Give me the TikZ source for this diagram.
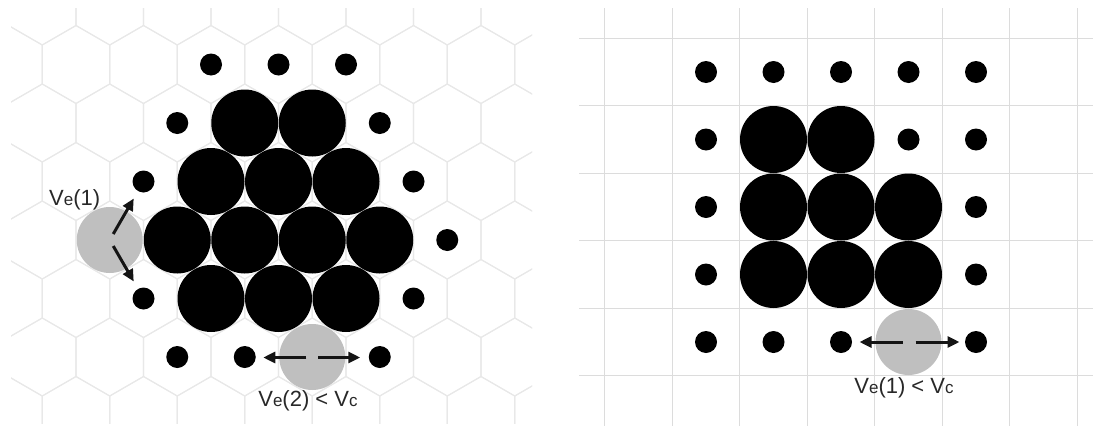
\documentclass[tikz,border=0pt]{standalone}
\usepackage{fontspec}
\setmainfont{Liberation Sans}
\usetikzlibrary{arrows.meta,calc}
\definecolor{hexc}{RGB}{232,232,232}
\definecolor{sqc}{RGB}{220,220,220}
\definecolor{greyc}{RGB}{191,191,191}
\definecolor{txtc}{RGB}{40,40,40}
\newcommand\subl[1]{{\fontsize{17}{17}\selectfont #1}}
\begin{document}
\begin{tikzpicture}[x=1pt,y=-1pt,
  bigc/.style={circle,fill=black,minimum size=67pt,inner sep=0pt,outer sep=0pt},
  dotc/.style={circle,fill=black,minimum size=22pt,inner sep=0pt,outer sep=0pt},
  greyatom/.style={circle,fill=greyc,minimum size=66pt,inner sep=0pt,outer sep=0pt},
  arr/.style={line width=3pt,draw=black!92,-{Triangle[length=12pt,width=11pt]}},
  lbl/.style={text=txtc,font=\fontsize{22}{24}\selectfont,inner sep=0pt},
  hexline/.style={draw=hexc,line width=1.1pt},
  gridline/.style={draw=sqc,line width=1.1pt}]
\useasboundingbox (0,0) rectangle (1093,426);
% ---------- hexagonal background (left) ----------
\begin{scope}
  \clip (11,8) rectangle (532,423);
  \foreach \r in {-1,...,6}{
    \foreach \k in {-4,...,5}{
      \pgfmathsetmacro{\cx}{211+67.5*\k-33.75*mod(abs(\r),2)}
      \pgfmathsetmacro{\cy}{64.5+58.5*\r}
      \draw[hexline] (\cx,\cy) +(30:38.97) -- +(90:38.97) -- +(150:38.97)
        -- +(210:38.97) -- +(270:38.97) -- +(330:38.97) -- cycle;
    }
  }
\end{scope}
% ---------- square background (right) ----------
\begin{scope}
  \clip (579,8) rectangle (1093,426);
  \foreach \i in {0,...,7}{
    \draw[gridline] ({604.75+67.5*\i},8) -- ({604.75+67.5*\i},426);
  }
  \foreach \j in {0,...,5}{
    \draw[gridline] (579,{38.25+67.5*\j}) -- (1093,{38.25+67.5*\j});
  }
\end{scope}
% ---------- left panel atoms ----------
% row 0
\node[dotc] (La1) at (211,64.5) {};
\node[dotc] (La2) at (278.5,64.5) {};
\node[dotc] (La3) at (346,64.5) {};
% row 1
\node[dotc] (Lb1) at (177.25,123) {};
\node[bigc] (Lb2) at (244.75,123) {};
\node[bigc] (Lb3) at (312.25,123) {};
\node[dotc] (Lb4) at (379.75,123) {};
% row 2
\node[dotc] (Lc1) at (143.5,181.5) {};
\node[bigc] (Lc2) at (211,181.5) {};
\node[bigc] (Lc3) at (278.5,181.5) {};
\node[bigc] (Lc4) at (346,181.5) {};
\node[dotc] (Lc5) at (413.5,181.5) {};
% row 3
\node[greyatom] (g1) at (109.75,240) {};
\node[bigc] (Ld2) at (177.25,240) {};
\node[bigc] (Ld3) at (244.75,240) {};
\node[bigc] (Ld4) at (312.25,240) {};
\node[bigc] (Ld5) at (379.75,240) {};
\node[dotc] (Ld6) at (447.25,240) {};
% row 4
\node[dotc] (Le1) at (143.5,298.5) {};
\node[bigc] (Le2) at (211,298.5) {};
\node[bigc] (Le3) at (278.5,298.5) {};
\node[bigc] (Le4) at (346,298.5) {};
\node[dotc] (Le5) at (413.5,298.5) {};
% row 5
\node[dotc] (Lf1) at (177.25,357) {};
\node[dotc] (Lf2) at (244.75,357) {};
\node[greyatom] (g2) at (312.25,357) {};
\node[dotc] (Lf4) at (379.75,357) {};
% arrows left panel
\draw[arr] ($(g1)+(3.5,-6)$) -- ($(g1)+(24,-41.5)$);
\draw[arr] ($(g1)+(3.5,6)$) -- ($(g1)+(24,41.5)$);
\draw[arr] ($(g2)+(-6,0.5)$) -- ($(g2)+(-49,0.5)$);
\draw[arr] ($(g2)+(6,0.5)$) -- ($(g2)+(48,0.5)$);
% labels left panel
\node[lbl,anchor=base west] (t1) at (49,205) {V\subl{e}(1)};
\node[lbl,anchor=base] (t2) at (308,406) {V\subl{e}(2) < V\subl{c}};
% ---------- right panel atoms ----------
\foreach \x [count=\i] in {706,773.5,841,908.5,976}{
  \node[dotc] (Ra\i) at (\x,72) {};
}
\node[dotc] (Rb1) at (706,139.5) {};
\node[bigc] (Rb2) at (773.5,139.5) {};
\node[bigc] (Rb3) at (841,139.5) {};
\node[dotc] (Rb4) at (908.5,139.5) {};
\node[dotc] (Rb5) at (976,139.5) {};
\node[dotc] (Rc1) at (706,207) {};
\node[bigc] (Rc2) at (773.5,207) {};
\node[bigc] (Rc3) at (841,207) {};
\node[bigc] (Rc4) at (908.5,207) {};
\node[dotc] (Rc5) at (976,207) {};
\node[dotc] (Rd1) at (706,274.5) {};
\node[bigc] (Rd2) at (773.5,274.5) {};
\node[bigc] (Rd3) at (841,274.5) {};
\node[bigc] (Rd4) at (908.5,274.5) {};
\node[dotc] (Rd5) at (976,274.5) {};
\node[dotc] (Re1) at (706,342) {};
\node[dotc] (Re2) at (773.5,342) {};
\node[dotc] (Re3) at (841,342) {};
\node[greyatom] (g3) at (908.5,342) {};
\node[dotc] (Re5) at (976,342) {};
\draw[arr] ($(g3)+(-6,0)$) -- ($(g3)+(-49,0)$);
\draw[arr] ($(g3)+(7,0)$) -- ($(g3)+(51,0)$);
\node[lbl,anchor=base] (t3) at (904,393) {V\subl{e}(1) < V\subl{c}};
\end{tikzpicture}
\end{document}
